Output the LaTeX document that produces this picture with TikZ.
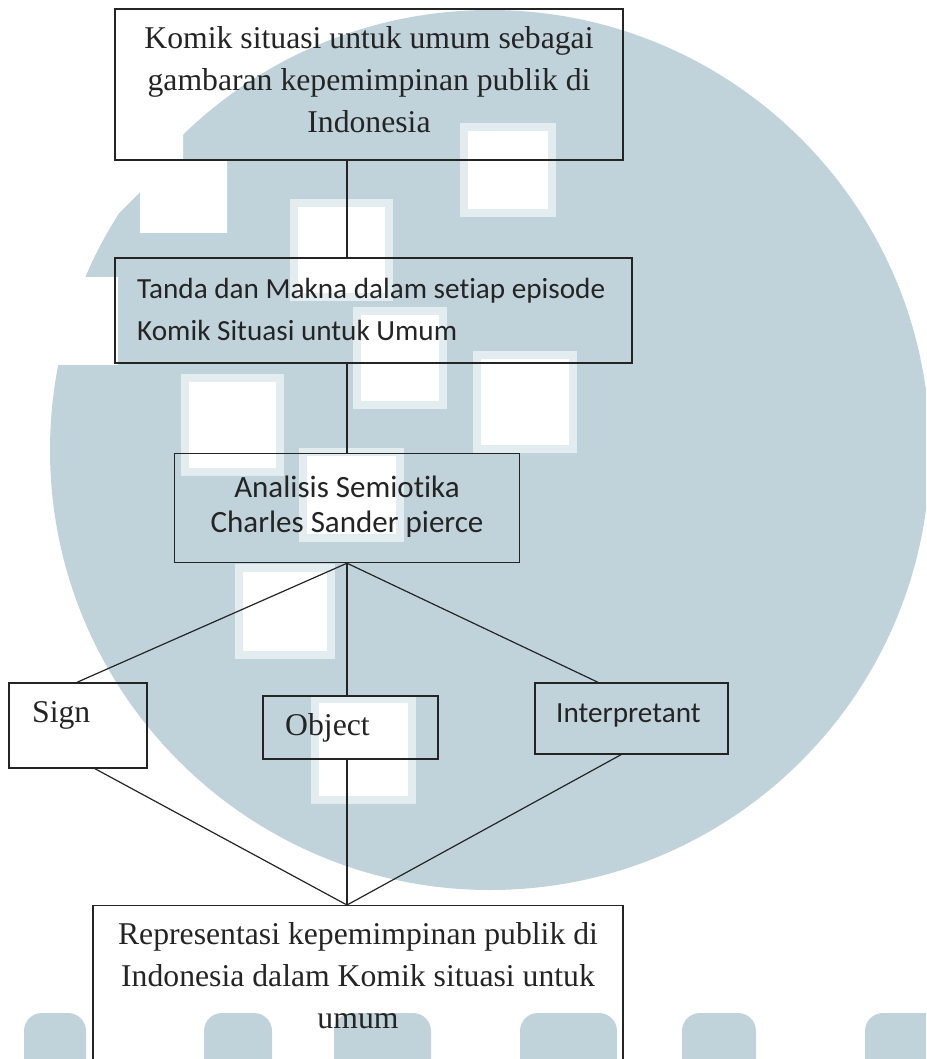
\documentclass[tikz,border=0pt]{standalone}
\usepackage{fontspec}
\setmainfont{Liberation Serif}
\newfontfamily\calib[Ligatures=NoCommon]{Carlito}
\definecolor{wm}{HTML}{C1D3DA}
\definecolor{wmlight}{HTML}{E3ECEF}
\definecolor{ink}{HTML}{242424}
\begin{document}
\begin{tikzpicture}[x=1pt,y=-1pt,
  box/.style={draw=ink, line width=1.4pt, rectangle, inner sep=0pt},
  serif/.style={font=\fontsize{31.7}{42}\selectfont, text=ink, inner sep=0pt},
  sans/.style={font=\calib\fontsize{29.2}{41}\selectfont, text=ink, inner sep=0pt},
  sansb/.style={font=\calib\fontsize{31}{41}\selectfont, text=ink, inner sep=0pt},
  link/.style={draw=ink, line width=1.2pt},
  wsq/.style={fill=white, draw=wmlight, line width=8pt},
  blob/.style={fill=wm, rounded corners=18pt}]
\useasboundingbox (0,0) rectangle (926,1059);
% watermark
\begin{scope}
  \clip (0,0) rectangle (926,1059);
  \fill[wm] (490,450) circle[radius=440];
  \fill[white] (0,0) -- (415,0) -- (410,12) -- (367,22) -- (290,57) -- (233,80)
    -- (207,103) -- (183,127) -- (183,160) -- (227,160) -- (227,233) -- (140,233)
    -- (140,192) -- (97,235) -- (0,235) -- cycle;
  \fill[white] (0,277) rectangle (118,365);
  \path[wsq] (464,127) rectangle (552,213);
  \path[wsq] (294,203) rectangle (389,297);
  \path[wsq] (357,311) rectangle (443,405);
  \path[wsq] (185,378) rectangle (280,472);
  \path[wsq] (477,355) rectangle (573,449);
  \path[wsq] (303,452) rectangle (400,538);
  \path[wsq] (239,568) rectangle (331,655);
  \path[wsq] (315,699) rectangle (412,800);
  \path[blob] (24,1013) rectangle (86,1085);
  \path[blob] (204,1013) rectangle (272,1085);
  \path[blob] (334,1013) rectangle (431,1085);
  \path[blob] (520,1013) rectangle (617,1085);
  \path[blob] (682,1013) rectangle (756,1085);
  \path[blob] (865,1013) rectangle (960,1085);
\end{scope}
% boxes
\node[box, minimum width=508pt, minimum height=151pt] (komik) at (369,84.5) {};
\node[box, minimum width=517pt, minimum height=105pt] (tanda) at (373.5,310.5) {};
\node[box, minimum width=345pt, minimum height=109pt] (anal) at (347,508) {};
\node[box, minimum width=138pt, minimum height=85pt] (sign) at (78,725.5) {};
\node[box, minimum width=175pt, minimum height=63pt] (obj) at (350.5,727.5) {};
\node[box, minimum width=193pt, minimum height=71pt] (interp) at (631.5,718.5) {};
\node[box, minimum width=530pt, minimum height=180pt, anchor=north] (repr) at (358,905) {};
% texts
\node[serif, anchor=base] (k1) at (369,49) {Komik situasi untuk umum sebagai};
\node[serif, anchor=base] (k2) at (369,91) {gambaran kepemimpinan publik di};
\node[serif, anchor=base] (k3) at (369,133) {Indonesia};
\node[sans, anchor=base west] (d1) at (137,298) {Tanda dan Makna dalam setiap episode};
\node[sans, anchor=base west] (d2) at (137,340) {Komik Situasi untuk Umum};
\node[sansb, anchor=base] (a1) at (347,497) {Analisis Semiotika};
\node[sansb, anchor=base] (a2) at (347,532) {Charles Sander pierce};
\node[serif, anchor=base west] (s1) at (32,722) {Sign};
\node[serif, anchor=base west] (o1) at (285,735) {Object};
\node[sans, anchor=base west] (i1) at (556,722) {Interpretant};
\node[serif, anchor=base] (r1) at (358,944) {Representasi kepemimpinan publik di};
\node[serif, anchor=base] (r2) at (358,986) {Indonesia dalam Komik situasi untuk};
\node[serif, anchor=base] (r3) at (358,1028) {umum};
% connectors
\draw[link] (anal.south |- komik.south) -- (anal.south |- tanda.north);
\draw[link] (anal.south |- tanda.south) -- (anal.north);
\draw[link] (anal.south) -- ([xshift=-1pt]sign.north);
\draw[link] (anal.south) -- (anal.south |- obj.north);
\draw[link] (anal.south) -- ([xshift=-33.5pt]interp.north);
\draw[link] ([xshift=17pt]sign.south) -- (anal.south |- repr.north);
\draw[link] (anal.south |- obj.south) -- (anal.south |- repr.north);
\draw[link] ([xshift=-10.5pt]interp.south) -- (anal.south |- repr.north);
\end{tikzpicture}
\end{document}
